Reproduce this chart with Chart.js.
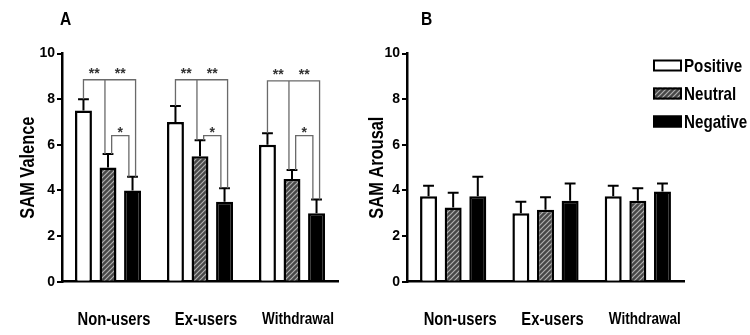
<!DOCTYPE html>
<html>
<head>
<meta charset="utf-8">
<script src="https://cdn.jsdelivr.net/npm/chart.js@4.4.0/dist/chart.umd.min.js"></script>
<style>
  html, body { margin: 0; padding: 0; background: #fff; }
  #wrap { position: relative; width: 750px; height: 335px; }
  #boxA { position: absolute; left: 0; top: 0; width: 360px; height: 335px; }
  #boxB { position: absolute; left: 360px; top: 0; width: 390px; height: 335px; }
</style>
</head>
<body>
<div id="wrap">
  <div id="boxA"><canvas id="chartA"></canvas></div>
  <div id="boxB"><canvas id="chartB"></canvas></div>
</div>
<script>
const groups = ['Non-users', 'Ex-users', 'Withdrawal'];
const seriesNames = ['Positive', 'Neutral', 'Negative'];

// panel A - SAM valence (mean, SEM)
const valencePositive = [7.5, 7.0, 6.0];
const valenceNeutral = [5.0, 5.5, 4.5];
const valenceNegative = [4.0, 3.5, 3.0];
const valencePositiveErr = [0.5, 0.7, 0.5];
const valenceNeutralErr = [0.6, 0.7, 0.4];
const valenceNegativeErr = [0.6, 0.6, 0.6];

// panel B - SAM arousal (mean, SEM)
const arousalPositive = [3.75, 3.0, 3.75];
const arousalNeutral = [3.25, 3.15, 3.55];
const arousalNegative = [3.75, 3.55, 3.95];
const arousalPositiveErr = [0.45, 0.5, 0.45];
const arousalNeutralErr = [0.65, 0.55, 0.55];
const arousalNegativeErr = [0.85, 0.75, 0.35];

const yTicks = [0, 2, 4, 6, 8, 10];

// significance brackets in panel A, in SAM units
const sigHigh = [8.85, 8.85, 8.8];
const sigLow = [6.4, 6.4, 6.4];
const sigStars = ['**', '**', '*'];

const FONT = "'Liberation Sans', Arial, sans-serif";
Chart.defaults.font.family = FONT;
Chart.defaults.color = '#000';

// the original uses a narrow bold face, squeeze Liberation Sans to match
function narrowText(ctx, text, x, y, size, align, rot) {
    ctx.save();
    ctx.translate(x, y);
    if (rot) ctx.rotate(rot);
    ctx.scale(0.82, 1);
    ctx.font = 'bold ' + size + 'px ' + FONT;
    ctx.fillStyle = '#000';
    ctx.textAlign = align;
    ctx.textBaseline = 'middle';
    ctx.fillText(text, 0, 0);
    ctx.restore();
}

function makeHatch() {
    const c = document.createElement('canvas');
    c.width = 5; c.height = 5;
    const g = c.getContext('2d');
    g.fillStyle = '#474747';
    g.fillRect(0, 0, 5, 5);
    g.strokeStyle = '#b0b0b0';
    g.lineWidth = 1.2;
    g.beginPath();
    g.moveTo(-1, 6); g.lineTo(6, -1);
    g.moveTo(-1, 1); g.lineTo(1, -1);
    g.moveTo(4, 6); g.lineTo(6, 4);
    g.stroke();
    return g.createPattern(c, 'repeat');
}
const hatch = makeHatch();

const fills = ['#ffffff', hatch, '#000000'];

const errorBars = {
    id: 'errorBars',
    afterDatasetsDraw(chart) {
        const ctx = chart.ctx;
        const y = chart.scales.y;
        ctx.save();
        ctx.strokeStyle = '#000';
        ctx.lineWidth = 2;
        chart.data.datasets.forEach((ds, i) => {
            chart.getDatasetMeta(i).data.forEach((bar, j) => {
                const top = y.getPixelForValue(ds.data[j] + ds.err[j]);
                const half = bar.width * 0.32;
                ctx.beginPath();
                ctx.moveTo(bar.x, bar.y);
                ctx.lineTo(bar.x, top);
                ctx.moveTo(bar.x - half, top);
                ctx.lineTo(bar.x + half, top);
                ctx.stroke();
            });
        });
        ctx.restore();
    }
};

const brackets = {
    id: 'brackets',
    afterDatasetsDraw(chart) {
        const ctx = chart.ctx;
        const y = chart.scales.y;
        const bars = [0, 1, 2].map(i => chart.getDatasetMeta(i).data);
        const capY = (i, j) => {
            const ds = chart.data.datasets[i];
            return y.getPixelForValue(ds.data[j] + ds.err[j]);
        };
        ctx.save();
        ctx.strokeStyle = '#6a6a6a';
        ctx.lineWidth = 1.3;
        ctx.fillStyle = '#333';
        ctx.font = 'bold 14px ' + FONT;
        ctx.textAlign = 'center';
        ctx.textBaseline = 'alphabetic';
        groups.forEach((g, j) => {
            const p = bars[0][j], n = bars[1][j], m = bars[2][j];
            const s = p.width * 0.18;
            const hi = y.getPixelForValue(sigHigh[j]);
            const lo = y.getPixelForValue(sigLow[j]);
            const x1 = p.x, x2 = n.x - s, x3 = m.x + s;
            const x4 = n.x + s * 1.2, x5 = m.x - s * 1.2;
            ctx.beginPath();
            ctx.moveTo(x1, capY(0, j)); ctx.lineTo(x1, hi); ctx.lineTo(x3, hi); ctx.lineTo(x3, capY(2, j));
            ctx.moveTo(x2, hi); ctx.lineTo(x2, capY(1, j));
            ctx.moveTo(x4, capY(1, j)); ctx.lineTo(x4, lo); ctx.lineTo(x5, lo); ctx.lineTo(x5, capY(2, j));
            ctx.stroke();
            ctx.fillText(sigStars[0], (x1 + x2) / 2, hi - 2);
            ctx.fillText(sigStars[1], (x2 + x3) / 2, hi - 2);
            ctx.fillText(sigStars[2], (x4 + x5) / 2, lo + 1);
        });
        ctx.restore();
    }
};

// panel letter, y title and group names
const panelText = {
    id: 'panelText',
    afterDraw(chart, args, opts) {
        const ctx = chart.ctx;
        const area = chart.chartArea;
        const x = chart.scales.x;
        narrowText(ctx, opts.letter, area.left + opts.letterDx, 20, 19, 'left', 0);
        narrowText(ctx, opts.yTitle, area.left - opts.titleGap, (area.top + area.bottom) / 2, 20, 'center', -Math.PI / 2);
        chart.data.labels.forEach((lab, i) => {
            narrowText(ctx, lab, x.getPixelForValue(i) + opts.labelShift, area.bottom + 38, i === 2 ? 16.5 : 18, 'center', 0);
        });
    }
};

const boxLegend = {
    id: 'boxLegend',
    afterDraw(chart, args, opts) {
        if (!opts.show) return;
        const ctx = chart.ctx;
        const x0 = chart.chartArea.right - 31;
        ctx.save();
        chart.data.datasets.forEach((ds, i) => {
            const yc = chart.chartArea.top + 12 + i * 28;
            ctx.fillStyle = ds.backgroundColor;
            ctx.fillRect(x0, yc - 6, 29, 12);
            ctx.strokeStyle = '#000';
            ctx.lineWidth = 2;
            ctx.strokeRect(x0 + 1, yc - 5, 27, 10);
            narrowText(ctx, ds.label, x0 + 31, yc + 1, 18.5, 'left', 0);
        });
        ctx.restore();
    }
};

function makeChart(id, values, errs, yTitle, letter, opt) {
    const datasets = seriesNames.map((name, i) => ({
        label: name,
        data: values[i],
        err: errs[i],
        backgroundColor: fills[i],
        borderColor: '#000',
        borderWidth: 2.5,
        barPercentage: 0.69,
        categoryPercentage: 0.8
    }));
    const plugins = [errorBars, panelText, boxLegend];
    if (opt.brackets) plugins.push(brackets);
    return new Chart(document.getElementById(id), {
        type: 'bar',
        data: { labels: groups, datasets: datasets },
        plugins: plugins,
        options: {
            responsive: true,
            maintainAspectRatio: false,
            animation: false,
            devicePixelRatio: 1,
            layout: { padding: { top: 53.5, right: opt.padRight, bottom: 0, left: 0 } },
            plugins: {
                legend: { display: false },
                tooltip: { enabled: false },
                panelText: { letter: letter, letterDx: opt.letterDx, yTitle: yTitle, titleGap: opt.titleGap, labelShift: opt.labelShift },
                boxLegend: { show: opt.legend }
            },
            scales: {
                x: {
                    grid: { display: false, drawTicks: false },
                    border: { display: true, color: '#000', width: 2.5 },
                    ticks: { display: false },
                    afterFit: (scale) => { scale.height = 53.3; }
                },
                y: {
                    min: yTicks[0],
                    max: yTicks[yTicks.length - 1],
                    ticks: { stepSize: yTicks[1] - yTicks[0], padding: 2, font: { size: 14, weight: 'bold' } },
                    grid: { display: true, drawOnChartArea: false, drawTicks: true, tickLength: 5, color: '#000', lineWidth: 2 },
                    border: { display: true, color: '#000', width: 2.5 },
                    afterFit: (scale) => { scale.width = opt.yWidth; }
                }
            }
        }
    });
}

makeChart('chartA',
    [valencePositive, valenceNeutral, valenceNegative],
    [valencePositiveErr, valenceNeutralErr, valenceNegativeErr],
    'SAM Valence', 'A',
    { yWidth: 62, padRight: 22, titleGap: 34, letterDx: -2, labelShift: 6, brackets: true, legend: false });

makeChart('chartB',
    [arousalPositive, arousalNeutral, arousalNegative],
    [arousalPositiveErr, arousalNeutralErr, arousalNegativeErr],
    'SAM Arousal', 'B',
    { yWidth: 47, padRight: 66, titleGap: 30, letterDx: 14, labelShift: 7, brackets: false, legend: true });
</script>
</body>
</html>
